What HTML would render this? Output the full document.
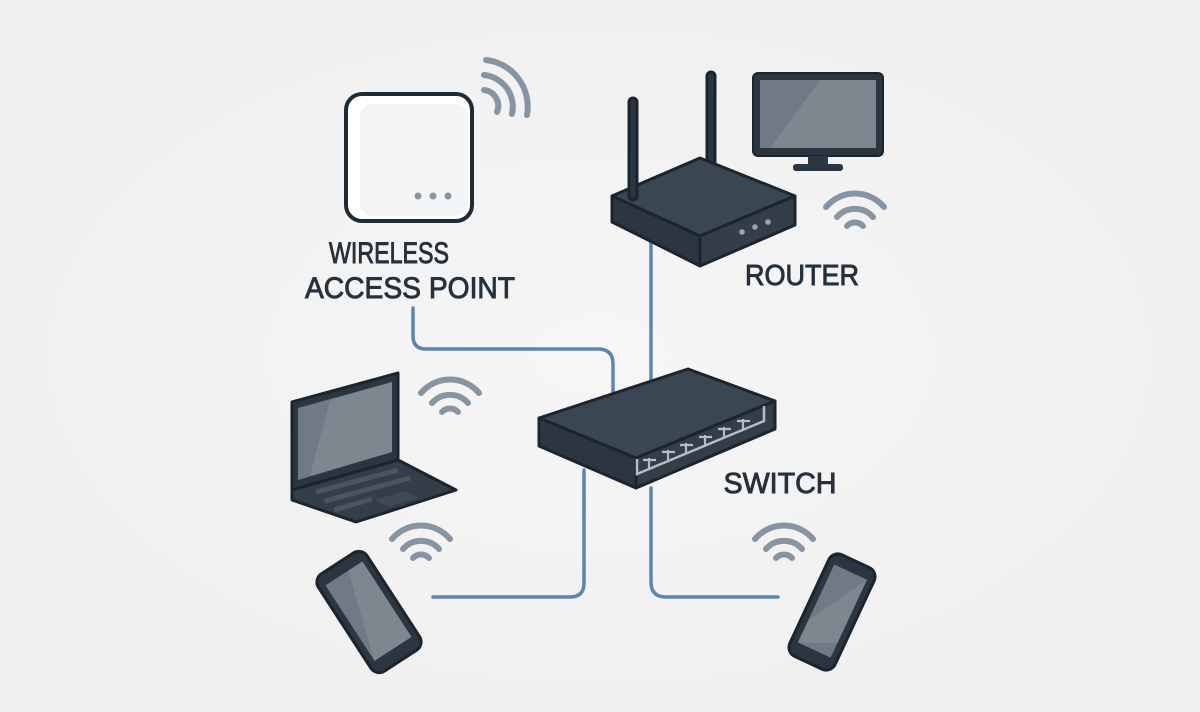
<!DOCTYPE html>
<html><head><meta charset="utf-8"><style>
html,body{margin:0;padding:0;background:#f3f3f3;}
svg{display:block}
text{font-family:"Liberation Sans",sans-serif;fill:#26313b;stroke:#26313b;stroke-width:0.9;}
</style></head><body>
<svg width="1200" height="712" viewBox="0 0 1200 712" xmlns="http://www.w3.org/2000/svg">
<defs>
<radialGradient id="bg" cx="50%" cy="50%" r="60%"><stop offset="0" stop-color="#f6f6f6"/><stop offset="1" stop-color="#efefef"/></radialGradient>
</defs>
<rect width="1200" height="712" fill="url(#bg)"/>

<g fill="none" stroke="#5b86b2" stroke-width="3.5" stroke-linecap="round">
<path d="M413 308 V336 Q413 349 426 349 H598 Q613 349 613 364 V392"/>
<path d="M651 240 V380"/>
<path d="M651 488 V582 Q651 597 666 597 H778"/>
<path d="M433 597 H570 Q584 597 584 583 V470"/>
</g>

<g fill="none" stroke="#8795a2" stroke-width="6" stroke-linecap="round">
<path d="M484 90 A16 16 0 0 1 497 112"/>
<path d="M484 75 A32 32 0 0 1 512 114"/>
<path d="M486 60 A47 47 0 0 1 527 115"/>
<g transform="translate(855,228)"><path d="M-8 -2 A11 11 0 0 1 8 -2"/><path d="M-18 -11 A24 24 0 0 1 18 -11"/><path d="M-29 -21 A38 38 0 0 1 29 -21"/></g>
<g transform="translate(450,414)"><path d="M-8 -2 A11 11 0 0 1 8 -2"/><path d="M-18 -11 A24 24 0 0 1 18 -11"/><path d="M-29 -21 A38 38 0 0 1 29 -21"/></g>
<g transform="translate(421,560)"><path d="M-8 -2 A11 11 0 0 1 8 -2"/><path d="M-18 -11 A24 24 0 0 1 18 -11"/><path d="M-29 -21 A38 38 0 0 1 29 -21"/></g>
<g transform="translate(784,560)"><path d="M-8 -2 A11 11 0 0 1 8 -2"/><path d="M-18 -11 A24 24 0 0 1 18 -11"/><path d="M-29 -21 A38 38 0 0 1 29 -21"/></g>
</g>

<rect x="346" y="94" width="126" height="127" rx="16" fill="#fff" stroke="#1f2a33" stroke-width="4"/>
<rect x="360" y="104" width="108" height="112" rx="12" fill="#f4f5f6"/>
<circle cx="418" cy="196" r="3.5" fill="#8795a2"/><circle cx="433" cy="196" r="3.5" fill="#8795a2"/><circle cx="448" cy="196" r="3.5" fill="#8795a2"/>
<text x="389" y="263" font-size="30" text-anchor="middle" textLength="120" lengthAdjust="spacingAndGlyphs">WIRELESS</text>
<text x="410" y="298" font-size="30" text-anchor="middle" textLength="210" lengthAdjust="spacingAndGlyphs">ACCESS POINT</text>

<g stroke="#1c252d" stroke-width="3" stroke-linejoin="round">
<rect x="707" y="72" width="8" height="95" rx="4" fill="#2c3640"/>
<polygon points="612,196 700,158 795,196 700,236" fill="#3a4651"/>
<polygon points="612,196 700,236 700,266 612,222" fill="#2c3640"/>
<polygon points="700,236 795,196 795,225 700,266" fill="#333e48"/>
<rect x="629" y="98" width="8" height="102" rx="4" fill="#2c3640"/>
</g>
<circle cx="742" cy="232" r="2.8" fill="#9aa4ad"/><circle cx="755" cy="227" r="2.8" fill="#9aa4ad"/><circle cx="768" cy="222" r="2.8" fill="#9aa4ad"/>
<text x="802" y="285" font-size="29" text-anchor="middle" textLength="114" lengthAdjust="spacingAndGlyphs">ROUTER</text>

<rect x="753" y="73" width="130" height="83" rx="5" fill="#2c3640" stroke="#1c252d" stroke-width="2"/>
<rect x="760" y="80" width="116" height="68" fill="#6f7a84"/>
<polygon points="820,80 876,80 876,148 770,148" fill="#7c8790"/>
<rect x="808" y="156" width="20" height="10" fill="#2c3640"/>
<rect x="793" y="164" width="50" height="7" rx="3" fill="#2c3640"/>

<g stroke="#1c252d" stroke-width="3" stroke-linejoin="round">
<polygon points="539,418 688,369 775,401 636,458" fill="#3a4651"/>
<polygon points="539,418 636,458 636,488 539,446" fill="#2c3640"/>
<polygon points="636,458 775,401 775,429 636,488" fill="#333e48"/>
</g>
<path d="M637 459 V474 L764 421 V406" fill="none" stroke="#b5bcc3" stroke-width="2.5"/>
<g stroke="#b5bcc3" stroke-width="2.2" fill="none">
<path d="M649 468 V458 M643 460 H656"/><path d="M668 460 V450 M662 452 H675"/><path d="M686 453 V443 M680 445 H693"/><path d="M705 445 V435 M699 437 H712"/><path d="M724 437 V427 M718 429 H731"/><path d="M743 429 V419 M737 421 H750"/>
</g>
<text x="780" y="493" font-size="29" text-anchor="middle" textLength="113" lengthAdjust="spacingAndGlyphs">SWITCH</text>

<g stroke="#1c252d" stroke-width="3" stroke-linejoin="round">
<polygon points="292,402 398,373 398,460 292,490" fill="#2c3640"/>
<polygon points="292,490 398,460 456,490 356,522 292,500" fill="#333e48"/>
</g>
<polygon points="298,408 392,382 392,452 298,480" fill="#6f7a84"/>
<polygon points="330,400 392,382 392,452 310,476" fill="#7c8790"/>
<g stroke="#4a5560" stroke-width="5"><path d="M316 492 L398 470"/><path d="M325 501 L410 478"/><path d="M334 510 L372 499"/></g>
<polygon points="375,500 405,491 418,498 388,507" fill="#3f4a55"/>

<g transform="translate(369,612) rotate(-33)">
<rect x="-29" y="-58" width="58" height="116" rx="10" fill="#2c3640" stroke="#1c252d" stroke-width="3"/>
<rect x="-22" y="-46" width="44" height="90" fill="#6f7a84"/>
<polygon points="5,-46 22,-46 22,44 -22,44" fill="#7c8790"/>
</g>
<g transform="translate(832,612) rotate(25)">
<rect x="-25" y="-56" width="50" height="112" rx="10" fill="#2c3640" stroke="#1c252d" stroke-width="3"/>
<rect x="-18" y="-44" width="36" height="86" fill="#6f7a84"/>
<polygon points="18,-44 18,26 -18,42 -18,18" fill="#7c8790"/>
</g>
</svg>
</body></html>
